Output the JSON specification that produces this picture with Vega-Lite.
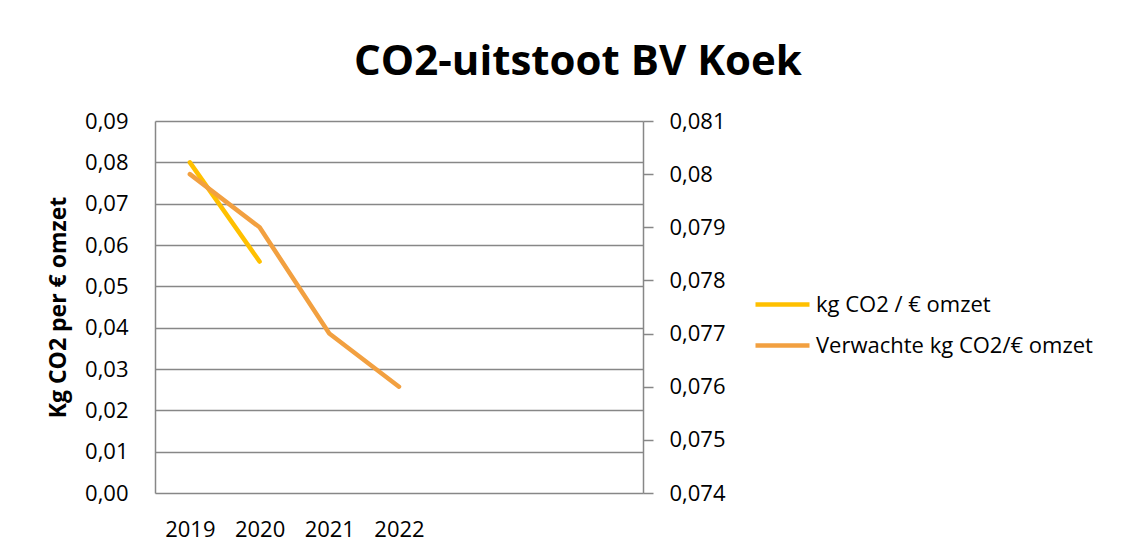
{
  "$schema": "https://vega.github.io/schema/vega-lite/v6.json",
  "width": 488,
  "height": 372,
  "autosize": "none",
  "padding": {"left": 155, "top": 121, "right": 490, "bottom": 60},
  "background": "white",
  "config": {
    "font": "Open Sans",
    "view": {"stroke": null},
    "locale": {"number": {"decimal": ",", "thousands": ".", "grouping": [3], "currency": ["€", ""]}}
  },
  "title": {
    "text": "CO2-uitstoot BV Koek",
    "font": "Open Sans",
    "fontSize": 42,
    "fontWeight": "bold",
    "color": "black",
    "anchor": "middle",
    "baseline": "alphabetic",
    "offset": 0,
    "dx": 179,
    "dy": 7
  },
  "data": {
    "values": [
      {"jaar": "2019", "reeks": "kg CO2 / € omzet", "waarde": 0.080},
      {"jaar": "2020", "reeks": "kg CO2 / € omzet", "waarde": 0.056},
      {"jaar": "2019", "reeks": "Verwachte kg CO2/€ omzet", "waarde": 0.0800},
      {"jaar": "2020", "reeks": "Verwachte kg CO2/€ omzet", "waarde": 0.0790},
      {"jaar": "2021", "reeks": "Verwachte kg CO2/€ omzet", "waarde": 0.0770},
      {"jaar": "2022", "reeks": "Verwachte kg CO2/€ omzet", "waarde": 0.0760}
    ]
  },
  "encoding": {
    "x": {
      "field": "jaar",
      "type": "ordinal",
      "scale": {"type": "point", "domain": ["2019", "2020", "2021", "2022", "x1", "x2", "x3"], "padding": 0.5},
      "axis": {
        "title": null,
        "labelAngle": 0,
        "domain": false,
        "ticks": false,
        "grid": false,
        "labelFontSize": 22,
        "labelColor": "black",
        "labelPadding": 26,
        "labelExpr": "indexof(['2019','2020','2021','2022'], datum.label) >= 0 ? datum.label : ''"
      }
    },
    "color": {
      "field": "reeks",
      "type": "nominal",
      "scale": {"domain": ["kg CO2 / € omzet", "Verwachte kg CO2/€ omzet"], "range": ["#FFC000", "#F2A040"]},
      "legend": {
        "title": null,
        "orient": "none",
        "legendX": 598,
        "legendY": 154,
        "padding": 0,
        "symbolType": "stroke",
        "symbolSize": 2916,
        "symbolStrokeWidth": 4.5,
        "labelFontSize": 22,
        "labelColor": "black",
        "labelOffset": 4,
        "rowPadding": -2,
        "labelLimit": 400
      }
    }
  },
  "layer": [
    {
      "transform": [{"filter": "datum.reeks == 'kg CO2 / € omzet'"}],
      "mark": {"type": "line", "strokeWidth": 4.5, "strokeCap": "round", "strokeJoin": "round"},
      "encoding": {
        "y": {
          "field": "waarde",
          "type": "quantitative",
          "scale": {"domain": [0, 0.09], "nice": false, "zero": true},
          "axis": {
            "title": "Kg CO2 per € omzet",
            "titleFontSize": 23,
            "titleFontWeight": "bold",
            "titleColor": "black",
            "titleAngle": -90,
            "titleX": -97,
            "titleY": 186,
            "titleAlign": "center",
            "titleBaseline": "middle",
            "values": [0, 0.01, 0.02, 0.03, 0.04, 0.05, 0.06, 0.07, 0.08, 0.09],
            "format": ".2f",
            "labelFontSize": 22,
            "labelColor": "black",
            "labelPadding": 27,
            "ticks": false,
            "tickSize": 0,
            "domain": true,
            "domainColor": "#878787",
            "domainWidth": 1.5,
            "grid": true,
            "gridColor": "#878787",
            "gridWidth": 1.5
          }
        }
      }
    },
    {
      "transform": [{"filter": "datum.reeks == 'Verwachte kg CO2/€ omzet'"}],
      "mark": {"type": "line", "strokeWidth": 4.5, "strokeCap": "round", "strokeJoin": "round"},
      "encoding": {
        "y": {
          "field": "waarde",
          "type": "quantitative",
          "scale": {"domain": [0.074, 0.081], "nice": false, "zero": false},
          "axis": {
            "orient": "right",
            "title": null,
            "values": [0.074, 0.075, 0.076, 0.077, 0.078, 0.079, 0.08, 0.081],
            "format": ".3~f",
            "labelFontSize": 22,
            "labelColor": "black",
            "labelPadding": 16,
            "ticks": true,
            "tickSize": 10,
            "tickColor": "#878787",
            "tickWidth": 1.5,
            "domain": true,
            "domainColor": "#878787",
            "domainWidth": 1.5,
            "grid": false
          }
        }
      }
    }
  ],
  "resolve": {"scale": {"y": "independent"}}
}
